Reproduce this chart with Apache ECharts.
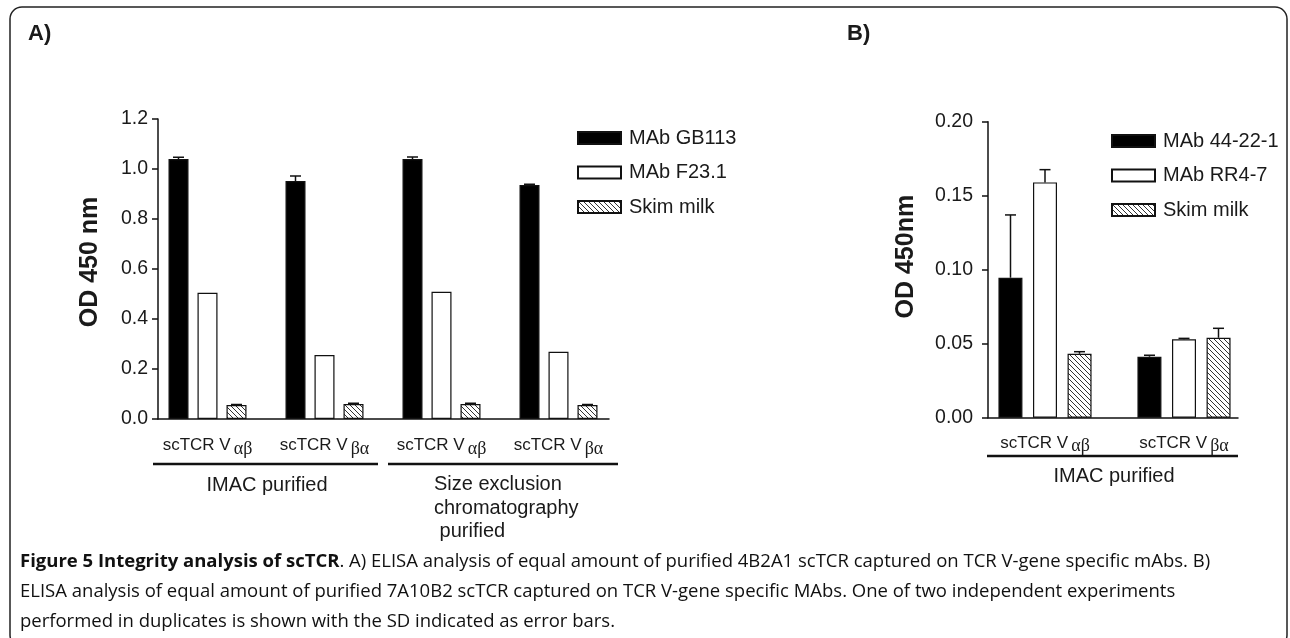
<!DOCTYPE html>
<html>
<head>
    <meta charset="utf-8">
    <title>Figure 5 scTCR ELISA</title>
    <script src="https://cdn.jsdelivr.net/npm/echarts@6/dist/echarts.min.js"></script>
    <style>
        html, body { margin: 0; padding: 0; background: #fff; }
        #main { width: 1290px; height: 638px; }
    </style>
</head>
<body>
<div id="main"></div>
<script>
// ---- data ----
var catsA = ['scTCR Vαβ', 'scTCR Vβα', 'scTCR Vαβ', 'scTCR Vβα'];
var gb113 = [1.040, 0.952, 1.040, 0.936];
var gb113Err = [0.007, 0.020, 0.008, 0.003];
var f231 = [0.505, 0.256, 0.509, 0.269];
var f231Err = [0, 0, 0, 0];
var skimA = [0.056, 0.060, 0.060, 0.056];
var skimAErr = [0.002, 0.003, 0.003, 0.002];
var ticksA = [0, 1.2, 0.2];

var catsB = ['scTCR Vαβ', 'scTCR Vβα'];
var mab4422 = [0.0946, 0.0412];
var mab4422Err = [0.0424, 0.0010];
var rr47 = [0.159, 0.053];
var rr47Err = [0.0086, 0.0006];
var skimB = [0.0432, 0.054];
var skimBErr = [0.0014, 0.0064];
var ticksB = [0, 0.2, 0.05];

// hatch fill "\\\\"
function hatch() {
    var c = document.createElement('canvas');
    c.width = 5; c.height = 5;
    var g = c.getContext('2d');
    g.fillStyle = '#fff';
    g.fillRect(0, 0, 5, 5);
    g.strokeStyle = '#333';
    g.lineWidth = 1;
    g.beginPath();
    g.moveTo(-1, -1); g.lineTo(6, 6);
    g.moveTo(-1, 4); g.lineTo(1, 6);
    g.moveTo(4, -1); g.lineTo(6, 1);
    g.stroke();
    return { image: c, repeat: 'repeat' };
}
var hatchFill = hatch();

var font = 'Liberation Sans, Arial, sans-serif';
var ink = '#1a1a1a';

function catLabel(v) {
    return '{a|' + v.slice(0, 7) + '}{g|' + v.slice(7) + '}';
}
var catRich = {
    a: { fontFamily: font, fontSize: 17, color: ink },
    g: { fontFamily: 'Liberation Serif, DejaVu Serif, serif', fontSize: 18, color: ink, padding: [7, 0, 0, 3] }
};

function barSeries(name, data, fill, xi, w, gap) {
    return {
        name: name, type: 'bar', xAxisIndex: xi, yAxisIndex: xi,
        data: data, barWidth: w, barGap: gap,
        itemStyle: { color: fill, borderColor: '#111', borderWidth: 1.2 },
        emphasis: { disabled: true }, z: 2
    };
}

function errSeries(vals, errs, xi, offset) {
    return {
        type: 'custom', xAxisIndex: xi, yAxisIndex: xi, z: 5, silent: true,
        data: vals.map(function (v, i) { return [i, v, errs[i]]; }),
        renderItem: function (params, api) {
            var e = api.value(2);
            if (!e) return null;
            var p0 = api.coord([api.value(0), api.value(1)]);
            var p1 = api.coord([api.value(0), api.value(1) + e]);
            var x = p0[0] + offset;
            var st = { stroke: '#111', lineWidth: 1.5 };
            return {
                type: 'group', children: [
                    { type: 'line', shape: { x1: x, y1: p0[1], x2: x, y2: p1[1] }, style: st },
                    { type: 'line', shape: { x1: x - 5.5, y1: p1[1], x2: x + 5.5, y2: p1[1] }, style: st }
                ]
            };
        }
    };
}

function axisY(grid, t, decimals, name, gap, lift, margin, show) {
    return {
        type: 'value', gridIndex: grid, min: t[0], max: t[1], interval: t[2], show: show,
        name: name, nameLocation: 'middle', nameGap: gap,
        nameTextStyle: { fontFamily: font, fontSize: 25, fontWeight: 'bold', color: ink, padding: [0, 0, 0, lift] },
        axisLine: { show: true, lineStyle: { color: '#111', width: 1.5 } },
        axisTick: { show: true, length: 6, lineStyle: { color: '#111', width: 1.5 } },
        axisLabel: {
            fontFamily: font, fontSize: 19.5, color: ink, margin: margin,
            formatter: function (v) { return v.toFixed(decimals); }
        },
        splitLine: { show: false }
    };
}

var chart = echarts.init(document.getElementById('main'));

var frameX = {
    type: 'value', min: 0, max: 1, axisLabel: { show: false }, axisTick: { show: false },
    splitLine: { show: false }, axisLine: { show: true, lineStyle: { color: '#111', width: 1.5 } }
};

function legendBox(names, left, top) {
    return {
        data: names, orient: 'vertical', left: left, top: top, padding: 0, icon: 'rect',
        itemWidth: 43, itemHeight: 12, itemGap: 14.5, selectedMode: false,
        textStyle: { fontFamily: font, fontSize: 20, color: ink, lineHeight: 20, padding: [0, 0, 0, 3] }
    };
}

var option = {
    animation: false,
    backgroundColor: '#fff',
    grid: [
        { left: 158, top: 119, width: 451, height: 300 },     // panel A frame
        { left: 149, top: 119, width: 468, height: 300 },     // panel A bars
        { left: 988, top: 121.7, width: 250, height: 296 },   // panel B frame
        { left: 975.5, top: 121.7, width: 278, height: 296 }  // panel B bars
    ],
    xAxis: [
        Object.assign({ gridIndex: 0 }, frameX),
        {
            type: 'category', gridIndex: 1, data: catsA,
            axisLine: { show: false }, axisTick: { show: false },
            axisLabel: { interval: 0, margin: 14, formatter: catLabel, rich: catRich }
        },
        Object.assign({ gridIndex: 2 }, frameX),
        {
            type: 'category', gridIndex: 3, data: catsB,
            axisLine: { show: false }, axisTick: { show: false },
            axisLabel: { interval: 0, margin: 13, formatter: catLabel, rich: catRich }
        }
    ],
    yAxis: [
        axisY(0, ticksA, 1, 'OD 450 nm', 55, 14, 10, true),
        axisY(1, ticksA, 1, '', 0, 0, 10, false),
        axisY(2, ticksB, 2, 'OD 450nm', 69, 26, 15, true),
        axisY(3, ticksB, 2, '', 0, 0, 15, false)
    ],
    legend: [
        legendBox(['MAb GB113', 'MAb F23.1', 'Skim milk'], 577, 128),
        legendBox(['MAb 44-22-1', 'MAb RR4-7', 'Skim milk'], 1111, 131)
    ],
    series: [
        barSeries('MAb GB113', gb113, '#000', 1, 20, '45%'),
        barSeries('MAb F23.1', f231, '#fff', 1, 20, '45%'),
        barSeries('Skim milk', skimA, hatchFill, 1, 20, '45%'),
        errSeries(gb113, gb113Err, 1, -29),
        errSeries(f231, f231Err, 1, 0),
        errSeries(skimA, skimAErr, 1, 29),
        barSeries('MAb 44-22-1', mab4422, '#000', 3, 24, '44%'),
        barSeries('MAb RR4-7', rr47, '#fff', 3, 24, '44%'),
        barSeries('Skim milk', skimB, hatchFill, 3, 24, '44%'),
        errSeries(mab4422, mab4422Err, 3, -34.5),
        errSeries(rr47, rr47Err, 3, 0),
        errSeries(skimB, skimBErr, 3, 34.5)
    ],
    graphic: [
        // outer frame
        { type: 'rect', shape: { x: 10, y: 7, width: 1277, height: 640, r: 12 },
          style: { fill: null, stroke: '#222', lineWidth: 1.5 }, z: 0 },
        { type: 'text', x: 28, y: 34, style: { text: 'A)', font: 'bold 22px ' + font, fill: ink, verticalAlign: 'middle' } },
        { type: 'text', x: 847, y: 34, style: { text: 'B)', font: 'bold 22px ' + font, fill: ink, verticalAlign: 'middle' } },
        // group brackets panel A
        { type: 'line', shape: { x1: 153, y1: 464, x2: 378, y2: 464 }, style: { stroke: '#111', lineWidth: 2.5 } },
        { type: 'line', shape: { x1: 388, y1: 464, x2: 618, y2: 464 }, style: { stroke: '#111', lineWidth: 2.5 } },
        { type: 'text', x: 267, y: 485, style: { text: 'IMAC purified', font: '20px ' + font, fill: ink, align: 'center', verticalAlign: 'middle' } },
        { type: 'text', x: 434, y: 473, style: { text: 'Size exclusion\nchromatography\n purified', font: '20px ' + font, fill: ink, lineHeight: 23.5, verticalAlign: 'top' } },
        // group bracket panel B
        { type: 'line', shape: { x1: 987, y1: 456, x2: 1238, y2: 456 }, style: { stroke: '#111', lineWidth: 2.5 } },
        { type: 'text', x: 1114, y: 476, style: { text: 'IMAC purified', font: '20px ' + font, fill: ink, align: 'center', verticalAlign: 'middle' } },
        // caption
        { type: 'text', x: 20, y: 562, style: {
            text: '{b|Figure 5 Integrity analysis of scTCR}{n|. A) ELISA analysis of equal amount of purified 4B2A1 scTCR captured on TCR V-gene specific mAbs. B)}',
            verticalAlign: 'middle',
            rich: {
                b: { fontFamily: 'Open Sans', fontSize: 18.5, fontWeight: 'bold', fill: '#111' },
                n: { fontFamily: 'Open Sans', fontSize: 18.5, fill: '#111' }
            } } },
        { type: 'text', x: 20, y: 592, style: {
            text: 'ELISA analysis of equal amount of purified 7A10B2 scTCR captured on TCR V-gene specific MAbs. One of two independent experiments',
            font: '18.5px Open Sans', fill: '#111', verticalAlign: 'middle' } },
        { type: 'text', x: 20, y: 622, style: {
            text: 'performed in duplicates is shown with the SD indicated as error bars.',
            font: '18.5px Open Sans', fill: '#111', verticalAlign: 'middle' } }
    ]
};

chart.setOption(option);
</script>
</body>
</html>
